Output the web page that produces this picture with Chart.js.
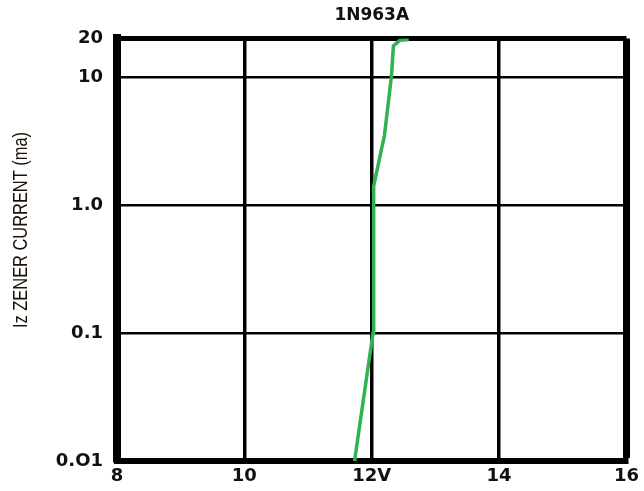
<!DOCTYPE html>
<html><head><meta charset="utf-8">
<script src="https://cdn.jsdelivr.net/npm/chart.js@4/dist/chart.umd.min.js"></script>
<style>html,body{margin:0;padding:0;background:#fff}#wrap{width:644px;height:491px}</style>
</head><body><div id="wrap"><canvas id="c" width="644" height="491"></canvas></div>
<script>
const chartTitle = "1N963A";
const yAxisTitle = "Iz ZENER CURRENT (ma)";
const voltage = [11.73, 12.02, 12.03, 12.2, 12.31, 12.34, 12.44, 12.58];
const current = [0.01, 0.1, 1.4, 3.5, 10.2, 17.5, 19.3, 19.6];
const xTickValues = [8, 10, 12, 14, 16];
const xTickLabels = ["8", "10", "12V", "14", "16"];
const yTickValues = [0.01, 0.1, 1, 10, 20];
const yTickLabels = ["0.O1", "0.1", "1.0", "10", "20"];

const tickFont = {family: "'DejaVu Sans', sans-serif", size: 18, weight: 'bold'};
const pts = voltage.map((v, i) => ({x: v, y: current[i]}));

const yTitlePlugin = {
  id: 'yTitle',
  afterDraw(chart) {
    const ctx = chart.ctx;
    ctx.save();
    ctx.translate(21, 230);
    ctx.rotate(-Math.PI / 2);
    ctx.font = "21px 'Liberation Sans', sans-serif";
    ctx.fillStyle = '#1a1208';
    ctx.textAlign = 'center';
    ctx.textBaseline = 'middle';
    ctx.fillText(yAxisTitle, 0, 0, 196);
    ctx.restore();
  }
};

new Chart(document.getElementById('c'), {
  type: 'line',
  data: {datasets: [{
    data: pts, borderColor: '#2db34f', borderWidth: 3.5, pointRadius: 0,
    tension: 0, fill: false
  }]},
  options: {
    responsive: false, animation: false, devicePixelRatio: 1,
    layout: {padding: {top: 0, right: 17, bottom: 0, left: 0}},
    plugins: {
      legend: {display: false}, tooltip: {enabled: false},
      title: {display: true, text: chartTitle, color: '#111', fullSize: false,
        font: {family: "'DejaVu Sans', sans-serif", size: 17, weight: 'bold'},
        padding: {top: 5, bottom: 13}}
    },
    scales: {
      x: {
        type: 'linear', min: 8, max: 16,
        afterBuildTicks: s => { s.ticks = xTickValues.map(v => ({value: v})); },
        afterFit: s => { s.height = 30; },
        ticks: {color: '#111', font: tickFont, padding: 5, maxRotation: 0,
          callback: (v) => { const i = xTickValues.indexOf(v); return i >= 0 ? xTickLabels[i] : ''; }},
        grid: {color: '#000', drawTicks: false,
          lineWidth: c => (c.index === xTickValues.length - 1 ? 7 : 3.5)},
        border: {display: true, color: '#000', width: 6}
      },
      y: {
        type: 'logarithmic', min: 0.01, max: 20,
        afterBuildTicks: s => { s.ticks = yTickValues.map(v => ({value: v})); },
        afterFit: s => { s.width = 117; },
        ticks: {color: '#111', font: tickFont, padding: 14,
          callback: (v) => { const i = yTickValues.indexOf(v); return i >= 0 ? yTickLabels[i] : ''; }},
        grid: {color: '#000', drawTicks: false,
          lineWidth: c => (c.index === yTickValues.length - 1 ? 5 : 2.5)},
        border: {display: true, color: '#000', width: 8},
        title: {display: false}
      }
    }
  },
  plugins: [yTitlePlugin]
});
</script></body></html>
